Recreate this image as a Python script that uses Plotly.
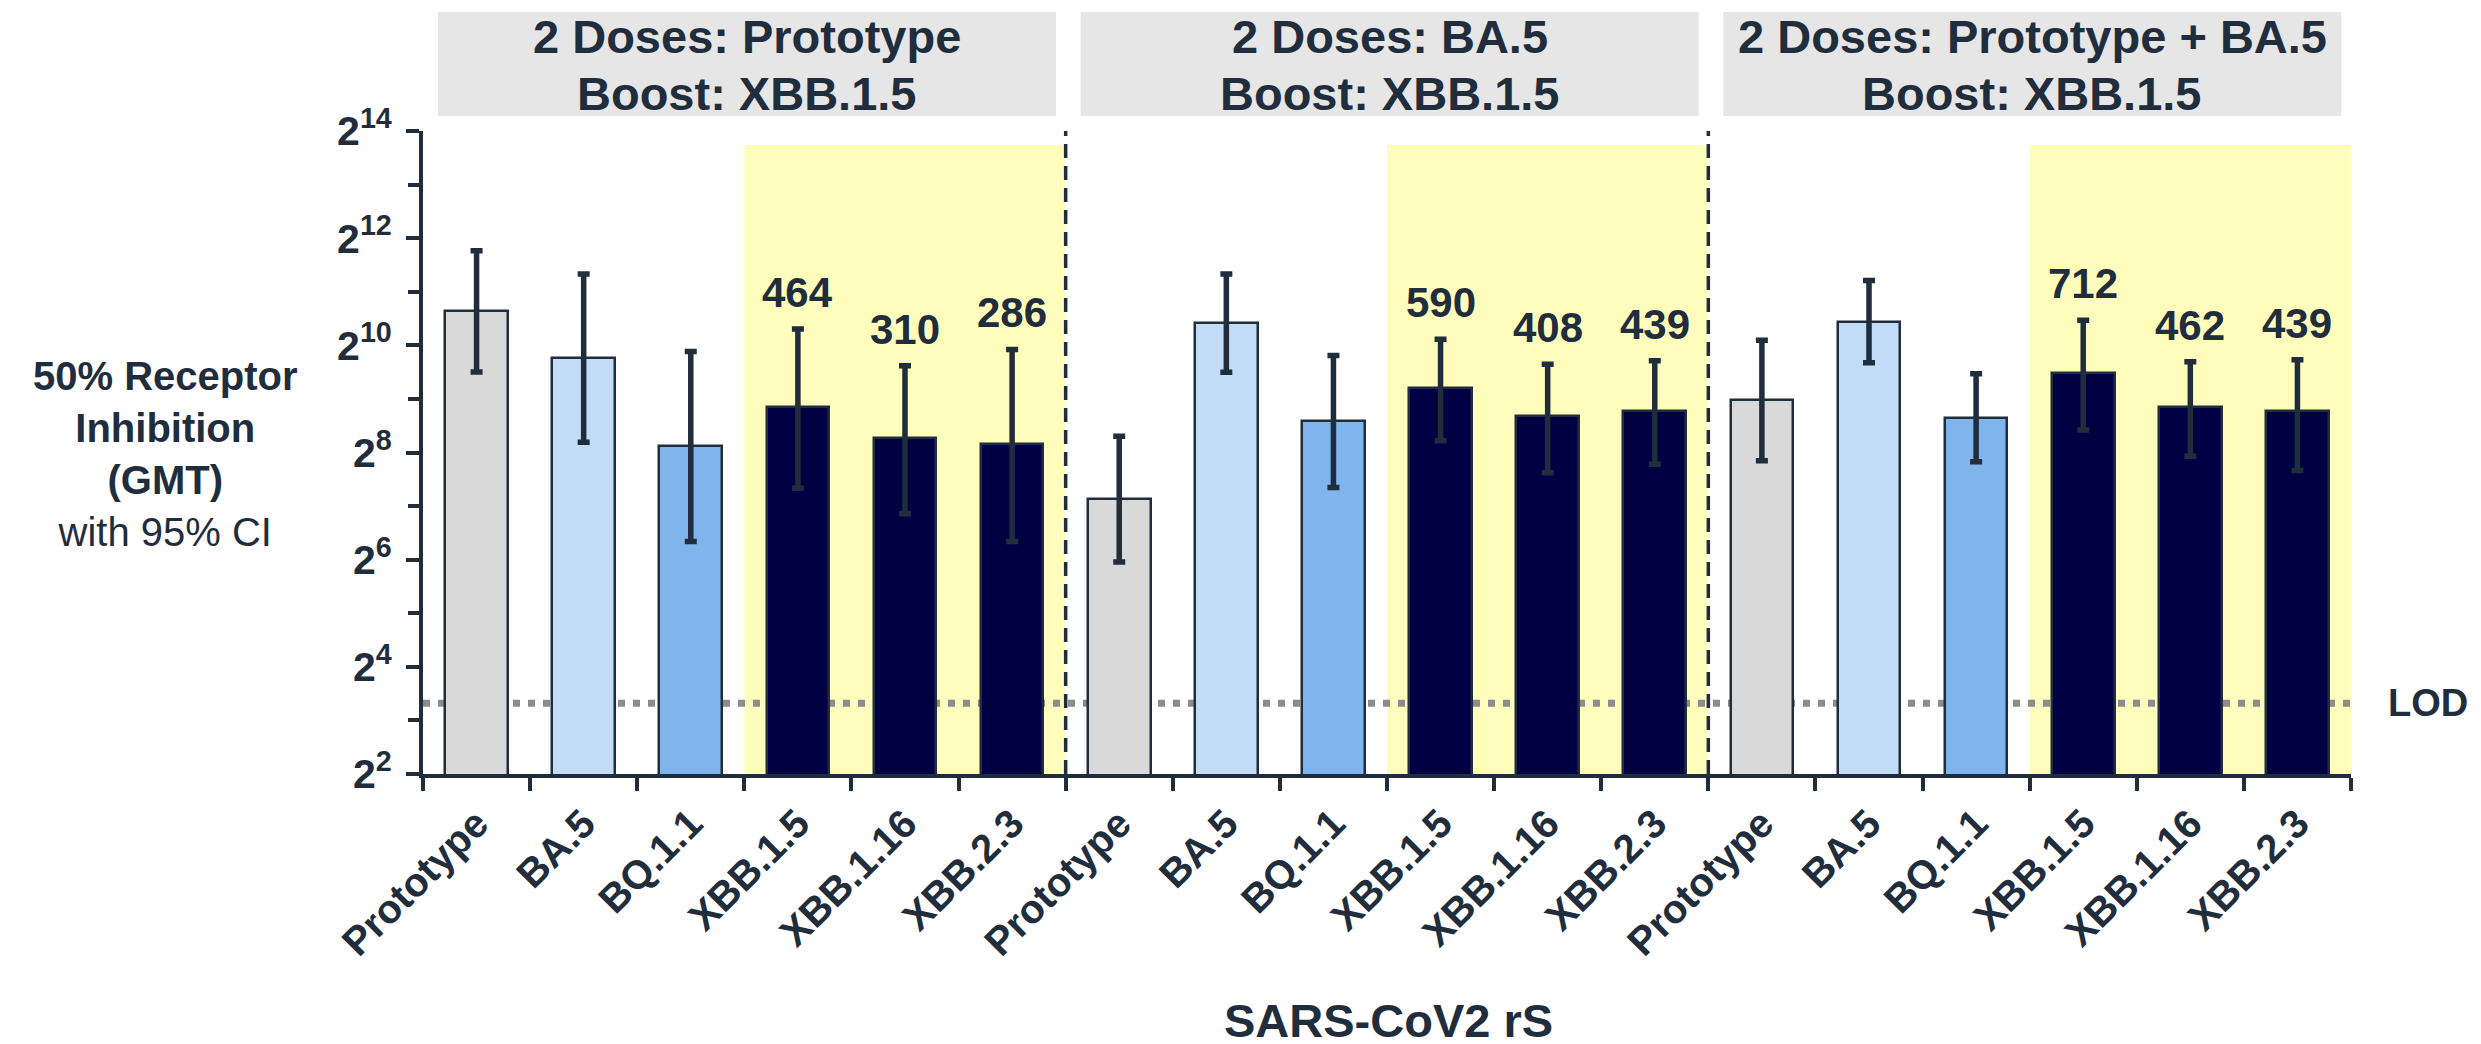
import numpy as np
import plotly.graph_objects as go

# ---------------- data ----------------
panel_titles = ["2 Doses: Prototype", "2 Doses: BA.5", "2 Doses: Prototype + BA.5"]
boost_title = "Boost: XBB.1.5"
variants = ["Prototype", "BA.5", "BQ.1.1", "XBB.1.5", "XBB.1.16", "XBB.2.3"]

gmt_p1 = [1590, 870, 278, 464, 310, 286]
lo_p1 = [726, 292, 81, 161, 116, 81]
hi_p1 = [3485, 2580, 946, 1265, 787, 971]

gmt_p2 = [140, 1360, 385, 590, 408, 439]
lo_p2 = [62, 722, 163, 298, 197, 220]
hi_p2 = [316, 2580, 897, 1108, 802, 840]

gmt_p3 = [502, 1387, 401, 712, 462, 439]
lo_p3 = [230, 818, 227, 342, 244, 203]
hi_p3 = [1094, 2367, 708, 1415, 829, 851]

labeled_variants = ["XBB.1.5", "XBB.1.16", "XBB.2.3"]
LOD = 10
y_exponents = [2, 4, 6, 8, 10, 12, 14]
y_minor_exponents = [3, 5, 7, 9, 11, 13]
x_title = "SARS-CoV2 rS"

# ---------------- styles ----------------
DARK = "#1f2d3d"
variant_colors = {
    "Prototype": "#D9D9D9",
    "BA.5": "#C2DBF6",
    "BQ.1.1": "#80B4EC",
    "XBB.1.5": "#000042",
    "XBB.1.16": "#000042",
    "XBB.2.3": "#000042",
}
YELLOW = "#FFFDBB"
HEADER_BG = "#E6E6E6"
FONT = "Liberation Sans, Arial, sans-serif"

W, H = 2481, 1044
ML, MR, MT, MB = 415, 138, 123, 278
PH = H - MT - MB
PW = W - ML - MR

gmts = gmt_p1 + gmt_p2 + gmt_p3
los = lo_p1 + lo_p2 + lo_p3
his = hi_p1 + hi_p2 + hi_p3
names = variants * 3
n = len(names)
xs = list(range(n))
colors = [variant_colors[v] for v in names]

fig = go.Figure()

fig.add_trace(go.Bar(
    x=xs, y=gmts, width=0.585,
    marker=dict(color=colors, line=dict(color=DARK, width=2.5)),
    error_y=dict(type="data", symmetric=False,
                 array=[h - g for h, g in zip(his, gmts)],
                 arrayminus=[g - l for g, l in zip(gmts, los)],
                 color=DARK, thickness=5.5, width=6),
    showlegend=False, hoverinfo="skip",
))

shapes = []
annotations = []
n_var = len(variants)
yellow_top = 2 ** 13.74
HEAD_SIZE = 47
for p, title in enumerate(panel_titles):
    start = p * n_var - 0.5
    end = start + n_var
    first_x = p * n_var + variants.index(labeled_variants[0]) - 0.5
    shapes.append(dict(type="rect", xref="x", yref="y", x0=first_x, x1=end,
                       y0=2 ** y_exponents[0], y1=yellow_top,
                       fillcolor=YELLOW, line=dict(width=0), layer="below"))
    shapes.append(dict(type="rect", xref="x", yref="paper",
                       x0=start + 0.14, x1=end - 0.09,
                       y0=1 + 15 / PH, y1=1 + 119 / PH,
                       fillcolor=HEADER_BG, line=dict(width=0), layer="below"))
    # two header lines, baselines at ~45px and ~102px from the top of the page
    for line_text, baseline in ((title, 45), (boost_title, 102)):
        center_px = baseline - 0.3465 * HEAD_SIZE
        annotations.append(dict(xref="x", yref="paper", x=(start + end) / 2 + 0.025,
                                y=1 + (MT - center_px) / PH, xanchor="center", yanchor="middle",
                                text=f"<b>{line_text}</b>", showarrow=False,
                                font=dict(size=HEAD_SIZE, color=DARK, family=FONT)))
    if p > 0:
        shapes.append(dict(type="line", xref="x", yref="y", x0=start, x1=start,
                           y0=2 ** y_exponents[0], y1=2 ** y_exponents[-1],
                           line=dict(color=DARK, width=3.5, dash="14px,8px"), layer="above"))

# LOD line
shapes.append(dict(type="line", xref="x", yref="y", x0=-0.5, x1=n - 0.39,
                   y0=LOD, y1=LOD, line=dict(color="#8C8C8C", width=7, dash="7px,8px"),
                   layer="below"))
annotations.append(dict(xref="paper", yref="y", x=1.018, y=np.log10(LOD), xanchor="left",
                        yanchor="middle", text="<b>LOD</b>", showarrow=False,
                        font=dict(size=38, color=DARK, family=FONT)))

# value labels above XBB bars
for i, (nm, g, h) in enumerate(zip(names, gmts, his)):
    if nm in labeled_variants:
        annotations.append(dict(xref="x", yref="y", x=i, y=np.log10(h), xanchor="center",
                                yanchor="bottom", yshift=11, text=f"<b>{g}</b>", showarrow=False,
                                font=dict(size=42, color=DARK, family=FONT)))

# y-axis title
annotations.append(dict(xref="paper", yref="paper", x=(157 - ML) / PW, y=(766 - 446) / PH,
                        xanchor="center", yanchor="middle",
                        text="<b>50% Receptor<br>Inhibition<br>(GMT)</b><br>with 95% CI",
                        showarrow=False, font=dict(size=40, color=DARK, family=FONT)))
# x-axis title (kept fully inside the page)
annotations.append(dict(xref="paper", yref="paper", x=(1380 - ML) / PW, y=-(1041 - 766) / PH,
                        xanchor="center", yanchor="bottom", text=f"<b>{x_title}</b>",
                        showarrow=False, font=dict(size=47, color=DARK, family=FONT)))

fig.update_layout(
    width=W, height=H, autosize=False,
    margin=dict(l=ML, r=MR, t=MT, b=MB),
    paper_bgcolor="white", plot_bgcolor="white",
    font=dict(family=FONT, color=DARK),
    shapes=shapes, annotations=annotations,
    bargap=0,
)

fig.update_xaxes(
    range=[-0.5, n - 0.5], tickmode="array", tickvals=xs,
    ticktext=[f"<b>{v}</b>" for v in names], tickangle=-45,
    tickfont=dict(size=40, color=DARK, family=FONT),
    ticks="", showline=True, linecolor=DARK, linewidth=4,
    showgrid=False, zeroline=False, ticklabelstandoff=6,
    minor=dict(tickmode="array", tickvals=[x - 0.5 for x in range(n + 1)],
               ticks="outside", ticklen=13, tickwidth=4, tickcolor=DARK, showgrid=False),
)
fig.update_yaxes(
    type="log", range=[np.log10(2 ** y_exponents[0]), np.log10(2 ** y_exponents[-1])],
    tickmode="array", tickvals=[2 ** e for e in y_exponents],
    ticktext=[f"<b>2<sup>{e}</sup></b>" for e in y_exponents],
    tickfont=dict(size=41, color=DARK, family=FONT),
    ticks="outside", ticklen=13, tickwidth=4, tickcolor=DARK,
    showline=True, linecolor=DARK, linewidth=4, showgrid=False, zeroline=False,
    ticklabelstandoff=6,
    minor=dict(tickmode="array", tickvals=[2 ** e for e in y_minor_exponents],
               ticks="outside", ticklen=11, tickwidth=4, tickcolor=DARK, showgrid=False),
)

fig.write_html("out.html")
